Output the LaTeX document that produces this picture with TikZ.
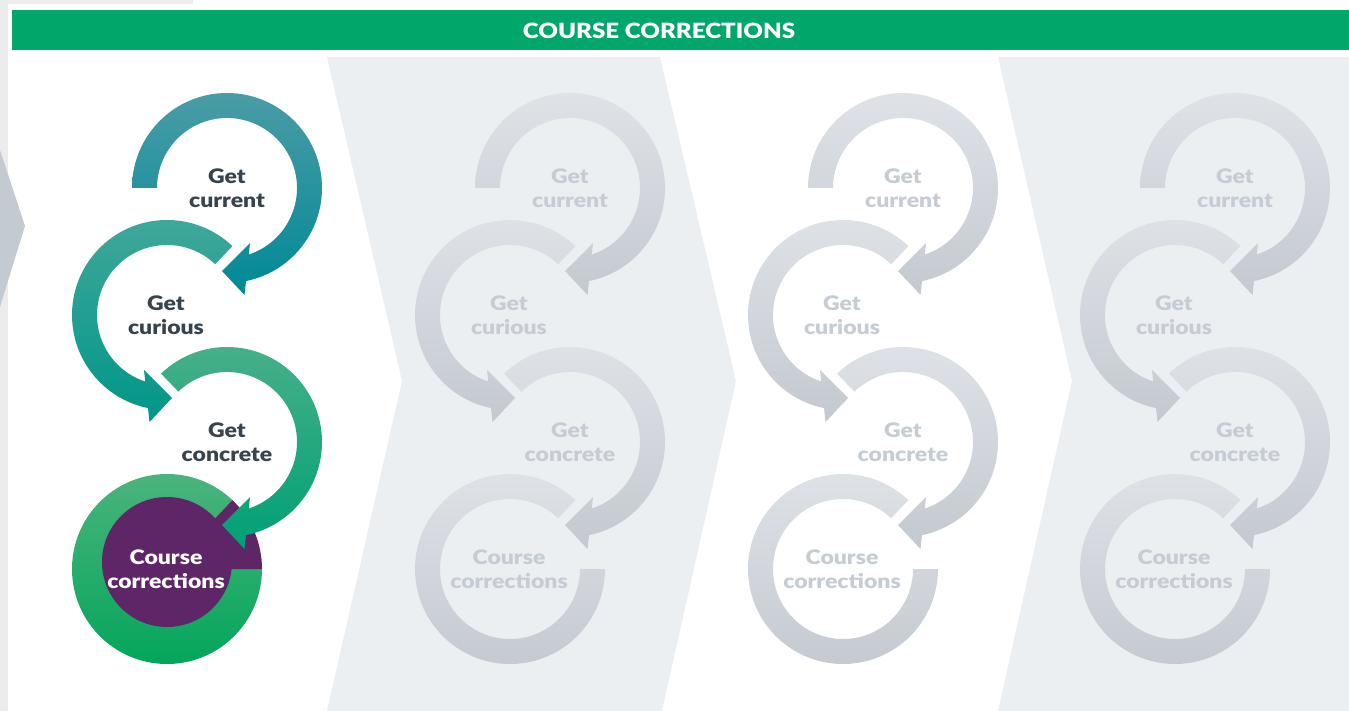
\documentclass[tikz,border=0pt]{standalone}
\usepackage{fontspec}
\setmainfont{Lato}[BoldFont={Lato Black},FakeStretch=1.15]
\definecolor{barG}{RGB}{0,166,106}
\definecolor{panel}{RGB}{236,239,242}
\definecolor{txt}{RGB}{55,67,77}
\definecolor{gtxt}{RGB}{197,204,212}
\definecolor{gtop}{RGB}{223,227,232}
\definecolor{gbot}{RGB}{196,201,208}
\definecolor{c1t}{RGB}{74,156,166}
\definecolor{c1b}{RGB}{0,137,150}
\definecolor{c2t}{RGB}{66,168,155}
\definecolor{c2b}{RGB}{0,150,136}
\definecolor{c3t}{RGB}{74,176,138}
\definecolor{c3b}{RGB}{0,160,116}
\definecolor{c4t}{RGB}{78,180,126}
\definecolor{c4b}{RGB}{0,165,90}
\definecolor{purp}{RGB}{94,37,103}
\definecolor{chev}{RGB}{196,202,210}
\definecolor{edgegray}{RGB}{236,236,236}
\newcommand{\cwarrow}[4]{%
  \shade[#4,shift={(#1,#2)}] (#3:95) arc[start angle=#3, end angle=438.47, radius=95]
    -- (17.5,107) -- (-5,83) -- (23,55) -- (21.8,66.5)
    arc[start angle=431.85, end angle=#3, radius=70] -- cycle;}
\newcommand{\ccwarrow}[4]{%
  \shade[#4,shift={(#1,#2)}] (#3:95) arc[start angle=#3, end angle=-258.47, radius=95]
    -- (-17.5,107) -- (5,83) -- (-23,55) -- (-21.8,66.5)
    arc[start angle=-251.85, end angle=#3, radius=70] -- cycle;}
\newcommand{\ringpath}[3]{%
  \shade[#3,shift={(#1,#2)}] (-46.5:95) arc[start angle=-46.5, end angle=-360, radius=95]
    -- (0:70) arc[start angle=-360, end angle=-46.5, radius=70] -- cycle;}
\tikzset{
  c1/.style={top color=c1t,bottom color=c1b},
  c2/.style={top color=c2t,bottom color=c2b},
  c3/.style={top color=c3t,bottom color=c3b},
  c4/.style={top color=c4t,bottom color=c4b},
  gring/.style={top color=gtop,bottom color=gbot},
  lbl/.style={align=center,inner sep=0pt,font=\fontsize{20}{24}\selectfont\bfseries},
  ttl/.style={inner sep=0pt,text=white,font=\fontsize{21}{24}\selectfont\bfseries}
}
\begin{document}
\begin{tikzpicture}[x=1pt,y=-1pt]
\useasboundingbox (0,0) rectangle (1349,711);
\fill[white] (0,0) rectangle (1349,711);
\fill[edgegray] (0,0) rectangle (7.5,711);
\fill[edgegray] (0,0) rectangle (193,4.5);
% panels
\fill[panel] (327,57) -- (660,57) -- (736,381) -- (662,711) -- (327,711) -- (402,381) -- cycle;
\fill[panel] (998,57) -- (1349,57) -- (1349,711) -- (998,711) -- (1072,381) -- cycle;
% left chevron
\fill[chev] (0,150) -- (25,226) -- (0,307) -- cycle;
% title bar
\fill[barG] (12,10) rectangle (1349,50);
\node[ttl] (title) at (659,31) {COURSE CORRECTIONS};
% column 1
\shade[c4,shift={(167,569)}] (0,0) -- (-46.5:95) arc[start angle=-46.5, end angle=-360, radius=95] -- cycle;
\fill[purp,shift={(167,569)}] (0,0) -- (-46.5:95) arc[start angle=-46.5, end angle=0, radius=95] -- cycle;
\fill[purp] (167,562) circle[radius=65];
\cwarrow{227}{442}{226}{c3}
\ccwarrow{167}{315}{-46.5}{c2}
\cwarrow{227}{188}{180}{c1}
\node[lbl,text=txt] (cur1) at (227,188) {Get\\current};
\node[lbl,text=txt] (cus1) at (166,315) {Get\\curious};
\node[lbl,text=txt] (con1) at (227,442) {Get\\concrete};
\node[lbl,text=white] (cor1) at (166,569) {Course\\corrections};
% grey columns
\foreach \dx/\k in {343/2,676/3,1008/4}{
  \ringpath{167+\dx}{569}{gring}
  \cwarrow{227+\dx}{442}{226}{gring}
  \ccwarrow{167+\dx}{315}{-46.5}{gring}
  \cwarrow{227+\dx}{188}{180}{gring}
  \node[lbl,text=gtxt] (cur\k) at (227+\dx,188) {Get\\current};
  \node[lbl,text=gtxt] (cus\k) at (166+\dx,315) {Get\\curious};
  \node[lbl,text=gtxt] (con\k) at (227+\dx,442) {Get\\concrete};
  \node[lbl,text=gtxt] (cor\k) at (166+\dx,569) {Course\\corrections};
}
\end{tikzpicture}
\end{document}
